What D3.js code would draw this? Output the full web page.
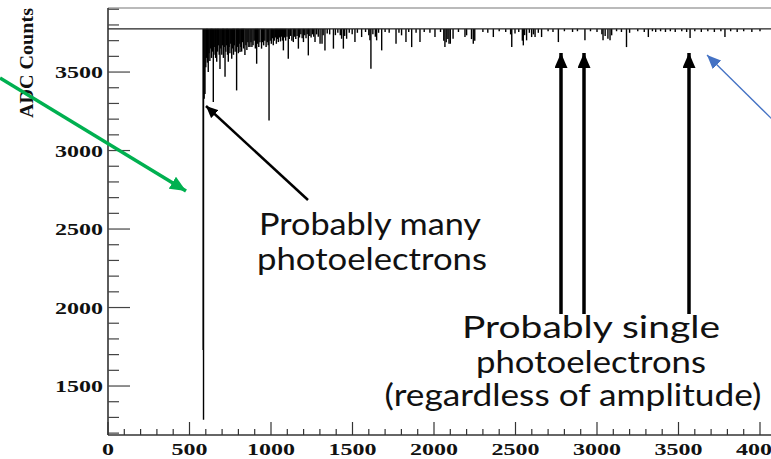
<!DOCTYPE html>
<html>
<head>
<meta charset="utf-8">
<script src="https://cdn.jsdelivr.net/npm/d3@7"></script>
<style>
body { margin: 0; background: #fff; }
svg { display: block; }
.tick-label { font-family: "Liberation Serif", "DejaVu Serif", serif; font-weight: bold; font-size: 17px; fill: #111; }
.note { font-family: Lato, "Open Sans", sans-serif; font-size: 30px; fill: #111; }
</style>
</head>
<body>
<svg width="771" height="459"></svg>
<script>
// waveform: flat baseline with downward spikes (sample, ADC value at spike minimum)
const baseline = 3775
const spikeSamples = [584, 586, 590, 595, 600, 605, 610, 615, 620, 625, 630, 635, 640, 646, 650, 655, 660, 667, 672, 677, 682, 687, 692, 698, 703, 708, 713, 718, 723, 728, 733, 738, 743, 748, 753, 759, 764, 770, 775, 780, 789, 795, 800, 805, 810, 815, 820, 826, 832, 840, 846, 852, 858, 864, 871, 877, 883, 890, 897, 904, 912, 918, 925, 932, 942, 948, 955, 962, 970, 977, 983, 988, 995, 1002, 1008, 1014, 1020, 1027, 1033, 1039, 1045, 1052, 1058, 1064, 1070, 1076, 1083, 1090, 1098, 1106, 1112, 1120, 1128, 1137, 1145, 1152, 1160, 1168, 1175, 1183, 1191, 1199, 1207, 1215, 1222, 1229, 1238, 1246, 1255, 1262, 1270, 1280, 1290, 1301, 1313, 1320, 1331, 1345, 1360, 1383, 1395, 1410, 1425, 1433, 1444, 1452, 1464, 1480, 1498, 1515, 1530, 1556, 1580, 1600, 1607, 1613, 1625, 1640, 1648, 1660, 1679, 1700, 1725, 1767, 1785, 1801, 1828, 1845, 1863, 1890, 1914, 1940, 1975, 2006, 2040, 2060, 2067, 2075, 2085, 2092, 2100, 2117, 2150, 2190, 2200, 2230, 2241, 2250, 2300, 2330, 2364, 2400, 2440, 2470, 2477, 2497, 2520, 2542, 2548, 2556, 2568, 2585, 2599, 2610, 2620, 2640, 2660, 2700, 2730, 2763, 2800, 2850, 2880, 2926, 2960, 3000, 3030, 3037, 3050, 3067, 3080, 3090, 3120, 3150, 3181, 3200, 3250, 3290, 3315, 3340, 3360, 3390, 3420, 3450, 3480, 3520, 3550, 3571, 3600, 3640, 3680, 3720, 3760, 3785, 3820, 3860, 3900, 3950, 4000]
const spikeValues = [1730, 1285, 3330, 3360, 3530, 3590, 3560, 3500, 3620, 3570, 3650, 3590, 3630, 3310, 3610, 3660, 3590, 3565, 3630, 3670, 3610, 3520, 3650, 3610, 3670, 3590, 3660, 3470, 3630, 3670, 3610, 3565, 3660, 3620, 3680, 3585, 3650, 3610, 3670, 3630, 3383, 3660, 3620, 3680, 3627, 3660, 3630, 3690, 3650, 3608, 3670, 3640, 3690, 3660, 3659, 3690, 3660, 3670, 3700, 3650, 3553, 3680, 3660, 3690, 3649, 3690, 3670, 3700, 3660, 3690, 3670, 3192, 3700, 3680, 3715, 3670, 3700, 3720, 3680, 3710, 3691, 3720, 3695, 3725, 3700, 3638, 3720, 3700, 3725, 3585, 3710, 3730, 3700, 3691, 3725, 3710, 3730, 3649, 3720, 3740, 3715, 3691, 3735, 3715, 3740, 3606, 3730, 3720, 3740, 3725, 3691, 3740, 3725, 3680, 3680, 3735, 3638, 3745, 3740, 3649, 3735, 3750, 3735, 3712, 3649, 3730, 3712, 3750, 3740, 3691, 3750, 3723, 3755, 3735, 3702, 3521, 3740, 3725, 3702, 3750, 3638, 3755, 3750, 3680, 3750, 3734, 3691, 3755, 3659, 3750, 3691, 3755, 3750, 3723, 3755, 3700, 3659, 3690, 3710, 3680, 3680, 3712, 3755, 3723, 3734, 3710, 3680, 3700, 3755, 3750, 3723, 3760, 3755, 3740, 3659, 3745, 3755, 3700, 3670, 3735, 3702, 3750, 3723, 3740, 3723, 3750, 3723, 3760, 3755, 3691, 3760, 3755, 3760, 3702, 3760, 3755, 3740, 3702, 3730, 3712, 3702, 3734, 3760, 3755, 3659, 3750, 3760, 3755, 3723, 3760, 3755, 3760, 3755, 3760, 3755, 3760, 3755, 3717, 3760, 3755, 3760, 3755, 3760, 3723, 3760, 3755, 3760, 3755, 3760]

const xMajor = [0, 500, 1000, 1500, 2000, 2500, 3000, 3500, 4000]
const xMinor = d3.range(0, 4101, 100)
const yMajor = [1500, 2000, 2500, 3000, 3500]
const yMinor = d3.range(1200, 3901, 100)

const svg = d3.select("svg")

const x = d3.scaleLinear().domain([0, 4100]).range([108, 776.3])
const y = d3.scaleLinear().domain([1188, 3908]).range([435, 8])

// frame
svg.append("line")
	.attr("x1", 108).attr("x2", 771)
	.attr("y1", y(3908)).attr("y2", y(3908))
	.attr("stroke", "#777").attr("stroke-width", 1.2)

// spikes
svg.append("g")
	.selectAll("line")
	.data(spikeSamples)
	.enter()
	.append("line")
	.attr("x1", d => x(d)).attr("x2", d => x(d))
	.attr("y1", y(baseline))
	.attr("y2", (d, i) => y(spikeValues[i]))
	.attr("stroke", "#000")
	.attr("stroke-width", 1.4)

// baseline
svg.append("line")
	.attr("x1", x(0)).attr("x2", 771)
	.attr("y1", y(baseline)).attr("y2", y(baseline))
	.attr("stroke", "#222").attr("stroke-width", 1.2)

// y axis
svg.append("line")
	.attr("x1", 108).attr("x2", 108)
	.attr("y1", y(3908)).attr("y2", 435)
	.attr("stroke", "#333").attr("stroke-width", 1.6)

svg.append("g")
	.selectAll("line")
	.data(yMinor)
	.enter()
	.append("line")
	.attr("x1", 108)
	.attr("x2", d => yMajor.includes(d) ? 130 : 119)
	.attr("y1", d => y(d)).attr("y2", d => y(d))
	.attr("stroke", "#444").attr("stroke-width", 1.2)

svg.append("g")
	.selectAll("text")
	.data(yMajor)
	.enter()
	.append("text")
	.attr("class", "tick-label")
	.attr("x", 103)
	.attr("y", d => y(d) + 6)
	.attr("text-anchor", "end")
	.attr("textLength", 48)
	.attr("lengthAdjust", "spacingAndGlyphs")
	.text(d => d)

// x axis
svg.append("line")
	.attr("x1", 108).attr("x2", 771)
	.attr("y1", 435).attr("y2", 435)
	.attr("stroke", "#333").attr("stroke-width", 1.6)

svg.append("g")
	.selectAll("line")
	.data(xMinor)
	.enter()
	.append("line")
	.attr("x1", d => x(d)).attr("x2", d => x(d))
	.attr("y1", 435)
	.attr("y2", d => xMajor.includes(d) ? 422 : 429)
	.attr("stroke", "#333").attr("stroke-width", 1.2)

svg.append("g")
	.selectAll("text")
	.data(xMajor)
	.enter()
	.append("text")
	.attr("class", "tick-label")
	.attr("x", d => x(d))
	.attr("y", 455)
	.attr("text-anchor", "middle")
	.attr("textLength", d => String(d).length * 12)
	.attr("lengthAdjust", "spacingAndGlyphs")
	.text(d => d)

svg.append("text")
	.attr("class", "tick-label")
	.attr("transform", "translate(33,63) rotate(-90)")
	.attr("text-anchor", "middle")
	.attr("textLength", 110)
	.attr("lengthAdjust", "spacingAndGlyphs")
	.style("font-size", "19px")
	.text("ADC Counts")

// arrow heads
const defs = svg.append("defs")
function head(id, color, w, h) {
	defs.append("marker")
		.attr("id", id)
		.attr("markerUnits", "userSpaceOnUse")
		.attr("viewBox", `0 ${-w / 2} ${h} ${w}`)
		.attr("refX", h).attr("refY", 0)
		.attr("markerWidth", h).attr("markerHeight", w)
		.attr("orient", "auto")
		.append("path")
		.attr("d", `M0,${-w / 2}L${h},0L0,${w / 2}Z`)
		.attr("fill", color)
}
head("hBlack", "#000", 11, 12)
head("hBig", "#000", 13, 15)
head("hGreen", "#00B050", 14, 16)
head("hBlue", "#4472C4", 12, 14)

const arrows = [
	{x1: 0, y1: 78, x2: 186, y2: 191, color: "#00B050", w: 3.5, m: "hGreen"},
	{x1: 308, y1: 200, x2: 206, y2: 106, color: "#000", w: 2.5, m: "hBlack"},
	{x1: 561, y1: 314, x2: 561, y2: 53, color: "#000", w: 3.5, m: "hBig"},
	{x1: 584, y1: 314, x2: 584, y2: 53, color: "#000", w: 3.5, m: "hBig"},
	{x1: 689, y1: 314, x2: 689, y2: 53, color: "#000", w: 3.5, m: "hBig"},
	{x1: 780, y1: 127, x2: 707, y2: 55, color: "#4472C4", w: 1.3, m: "hBlue"}
]

svg.append("g")
	.selectAll("line")
	.data(arrows)
	.enter()
	.append("line")
	.attr("x1", d => d.x1).attr("y1", d => d.y1)
	.attr("x2", d => d.x2).attr("y2", d => d.y2)
	.attr("stroke", d => d.color)
	.attr("stroke-width", d => d.w)
	.attr("marker-end", d => `url(#${d.m})`)

// notes
const notes = [
	{t: "Probably many", x: 370, y: 235, len: 222},
	{t: "photoelectrons", x: 372, y: 270, len: 230},
	{t: "Probably single", x: 591, y: 338, len: 258},
	{t: "photoelectrons", x: 591, y: 373, len: 230},
	{t: "(regardless of amplitude)", x: 573, y: 406, len: 377}
]

svg.append("g")
	.selectAll("text")
	.data(notes)
	.enter()
	.append("text")
	.attr("class", "note")
	.attr("x", d => d.x)
	.attr("y", d => d.y)
	.attr("text-anchor", "middle")
	.attr("textLength", d => d.len)
	.attr("lengthAdjust", "spacingAndGlyphs")
	.text(d => d.t)
</script>
</body>
</html>
